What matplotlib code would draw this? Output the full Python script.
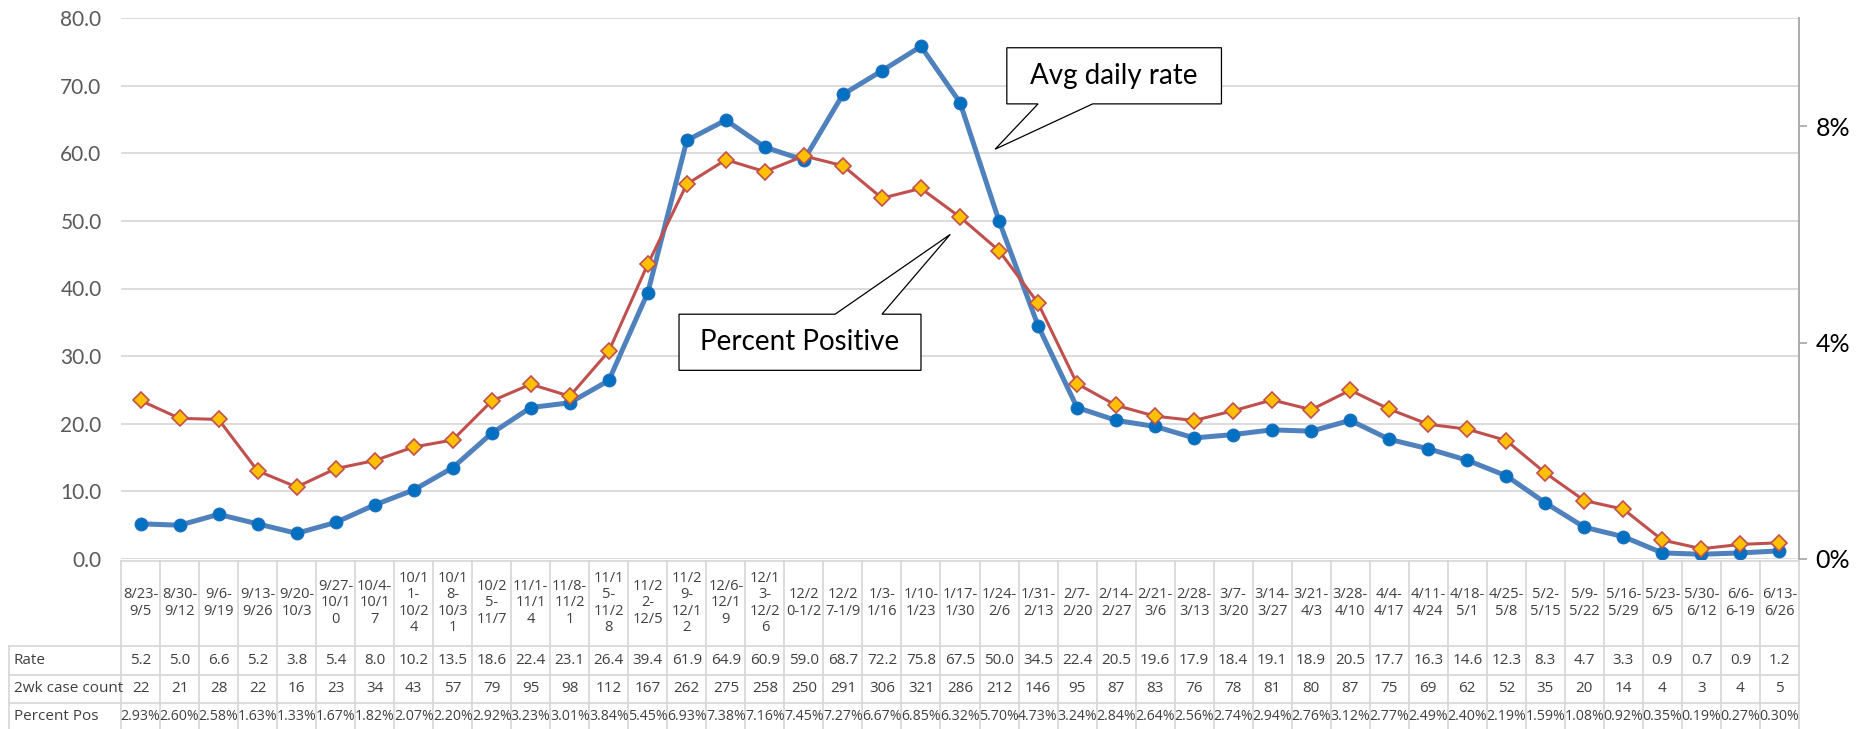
import matplotlib.pyplot as plt
import matplotlib.transforms as mtransforms
from matplotlib.lines import Line2D
from matplotlib.patches import Polygon
from matplotlib.ticker import FormatStrFormatter, PercentFormatter, FixedLocator

plt.rcParams['font.family'] = ['Lato', 'DejaVu Sans']

# week labels, wrapped the way the table shows them
weeks = ["8/23-\n9/5", "8/30-\n9/12", "9/6-\n9/19", "9/13-\n9/26", "9/20-\n10/3",
         "9/27-\n10/1\n0", "10/4-\n10/1\n7", "10/1\n1-\n10/2\n4", "10/1\n8-\n10/3\n1",
         "10/2\n5-\n11/7", "11/1-\n11/1\n4", "11/8-\n11/2\n1", "11/1\n5-\n11/2\n8",
         "11/2\n2-\n12/5", "11/2\n9-\n12/1\n2", "12/6-\n12/1\n9", "12/1\n3-\n12/2\n6",
         "12/2\n0-1/2", "12/2\n7-1/9", "1/3-\n1/16", "1/10-\n1/23", "1/17-\n1/30",
         "1/24-\n2/6", "1/31-\n2/13", "2/7-\n2/20", "2/14-\n2/27", "2/21-\n3/6",
         "2/28-\n3/13", "3/7-\n3/20", "3/14-\n3/27", "3/21-\n4/3", "3/28-\n4/10",
         "4/4-\n4/17", "4/11-\n4/24", "4/18-\n5/1", "4/25-\n5/8", "5/2-\n5/15",
         "5/9-\n5/22", "5/16-\n5/29", "5/23-\n6/5", "5/30-\n6/12", "6/6-\n6-19",
         "6/13-\n6/26"]

rate = [5.2, 5.0, 6.6, 5.2, 3.8, 5.4, 8.0, 10.2, 13.5, 18.6, 22.4, 23.1, 26.4, 39.4,
        61.9, 64.9, 60.9, 59.0, 68.7, 72.2, 75.8, 67.5, 50.0, 34.5, 22.4, 20.5, 19.6,
        17.9, 18.4, 19.1, 18.9, 20.5, 17.7, 16.3, 14.6, 12.3, 8.3, 4.7, 3.3, 0.9, 0.7,
        0.9, 1.2]

case_count = [22, 21, 28, 22, 16, 23, 34, 43, 57, 79, 95, 98, 112, 167, 262, 275, 258,
              250, 291, 306, 321, 286, 212, 146, 95, 87, 83, 76, 78, 81, 80, 87, 75, 69,
              62, 52, 35, 20, 14, 4, 3, 4, 5]

pct_pos = [2.93, 2.60, 2.58, 1.63, 1.33, 1.67, 1.82, 2.07, 2.20, 2.92, 3.23, 3.01, 3.84,
           5.45, 6.93, 7.38, 7.16, 7.45, 7.27, 6.67, 6.85, 6.32, 5.70, 4.73, 3.24, 2.84,
           2.64, 2.56, 2.74, 2.94, 2.76, 3.12, 2.77, 2.49, 2.40, 2.19, 1.59, 1.08, 0.92,
           0.35, 0.19, 0.27, 0.30]

row_names = ["Rate", "2wk case count", "Percent Pos"]

W, H = 1874, 729
grid_col = '#D9D9D9'
txt_col = '#404040'
tbl_font = ['Open Sans', 'DejaVu Sans']

fig = plt.figure(figsize=(W / 100, H / 100), dpi=100)
ax = fig.add_axes([121 / W, 1 - 559 / H, (1799 - 121) / W, (559 - 18) / H])
n = len(weeks)
xs = list(range(n))

ax.set_xlim(-0.5, n - 0.5)
ax.set_ylim(0, 80)
ax.set_yticks(range(0, 81, 10))
ax.yaxis.set_major_formatter(FormatStrFormatter('%.1f'))
ax.tick_params(axis='y', length=0, pad=14, labelsize=15, labelcolor='#595959')
ax.set_xticks([])
ax.grid(axis='y', color=grid_col, lw=1.3)
ax.set_axisbelow(True)
for s in ax.spines.values():
    s.set_visible(False)

ax.plot(xs, rate, color='#4F81BD', lw=3.6, marker='o', ms=9,
        mfc='#0070C0', mec='#1F6FC0', zorder=3)

ax2 = ax.twinx()
ax2.set_ylim(0, 0.10)
ax2.yaxis.set_major_locator(FixedLocator([0, 0.04, 0.08]))
ax2.yaxis.set_major_formatter(PercentFormatter(1.0, decimals=0))
ax2.tick_params(axis='y', length=6, width=1.2, color='#A6A6A6', pad=6,
                labelsize=18, labelcolor='black')
for k in ['top', 'left', 'bottom']:
    ax2.spines[k].set_visible(False)
ax2.spines['right'].set_color('#A6A6A6')
ax2.spines['right'].set_linewidth(1.3)
ax2.plot(xs, [p / 100 for p in pct_pos], color='#C0504D', lw=2.2, marker='D', ms=8,
         mfc='#FFC000', mec='#C0504D', mew=1.2, zorder=3)


def callout(text, box, base, tip, side):
    x0, x1, y0, y1 = box
    if side == 'bottom':
        pts = [(x0, y1), (x1, y1), (x1, y0), (base[1], y0), tip, (base[0], y0), (x0, y0)]
    else:
        pts = [(x0, y0), (x1, y0), (x1, y1), (base[1], y1), tip, (base[0], y1), (x0, y1)]
    poly = Polygon(pts, closed=True, facecolor='white', edgecolor='black', lw=0.9,
                   transform=ax.transData, zorder=6, clip_on=False)
    ax2.add_patch(poly)
    ax2.text((x0 + x1) / 2, (y0 + y1) / 2, text, transform=ax.transData,
             ha='center', va='center', fontsize=20, color='black', zorder=7)


callout("Avg daily rate", (22.2, 27.7, 67.3, 75.6), (23.0, 24.4), (21.9, 60.6), 'bottom')
callout("Percent Positive", (13.8, 20.0, 27.9, 36.2), (17.8, 19.0), (20.75, 48.0), 'top')

# data table under the plot
blend = mtransforms.blended_transform_factory(ax.transData, fig.transFigure)
fy = lambda py: 1 - py / H
top, hdr_bot, r1_bot, r2_bot, bot = 561, 646, 675, 703, 740
x_left, x_right = 9 / W, 1799 / W

for i in range(n + 1):
    fig.add_artist(Line2D([i - 0.5, i - 0.5], [fy(top), fy(bot)], transform=blend,
                          color=grid_col, lw=1.3))
fig.add_artist(Line2D([-0.5, n - 0.5], [fy(top), fy(top)], transform=blend,
                      color=grid_col, lw=1.3))
fig.add_artist(Line2D([x_left, x_left], [fy(hdr_bot), fy(bot)], transform=fig.transFigure,
                      color=grid_col, lw=1.3))
for py in [hdr_bot, r1_bot, r2_bot]:
    fig.add_artist(Line2D([x_left, x_right], [fy(py), fy(py)], transform=fig.transFigure,
                          color=grid_col, lw=1.3))

row_mid = [660, 689, 716]
for name, py in zip(row_names, row_mid):
    fig.text(14 / W, fy(py), name, ha='left', va='center', fontsize=11,
             color=txt_col, family=tbl_font)

for i in range(n):
    fig.text(i, fy(603), weeks[i], transform=blend, ha='center', va='center',
             fontsize=10.5, color=txt_col, linespacing=1.15, family=tbl_font)
    fig.text(i, fy(row_mid[0]), f"{rate[i]:.1f}", transform=blend, ha='center',
             va='center', fontsize=11, color=txt_col, family=tbl_font)
    fig.text(i, fy(row_mid[1]), f"{case_count[i]}", transform=blend, ha='center',
             va='center', fontsize=11, color=txt_col, family=tbl_font)
    fig.text(i, fy(row_mid[2]), f"{pct_pos[i]:.2f}%", transform=blend, ha='center',
             va='center', fontsize=10.2, color=txt_col, family=tbl_font)

fig.savefig('out.png', dpi=100)
